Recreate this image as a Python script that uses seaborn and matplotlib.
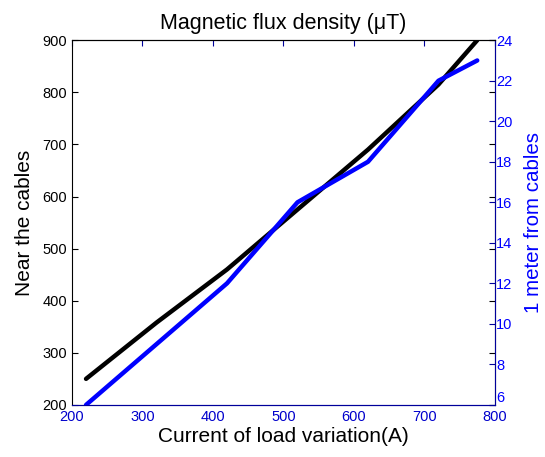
import pandas as pd
import matplotlib
matplotlib.use("Agg")
import matplotlib.pyplot as plt
import seaborn as sns

# Stroom (A)
current = [220, 320, 420, 520, 620, 720, 775]
# Flux dichtbij de kabels (uT)
near_cables = [250, 358, 460, 575, 690, 815, 900]
# Flux op 1 meter
one_meter = [6, 9, 12, 16, 18, 22, 23]

xticks = [200, 300, 400, 500, 600, 700, 800]
yticks_left = [200, 300, 400, 500, 600, 700, 800, 900]
yticks_right = [6, 8, 10, 12, 14, 16, 18, 20, 22, 24]

df = pd.DataFrame({"current": current, "near": near_cables, "meter": one_meter})

sns.set_style("white")
plt.rcParams["font.family"] = ["Liberation Sans", "DejaVu Sans"]
plt.rcParams["text.color"] = "black"
plt.rcParams["axes.labelcolor"] = "black"

fig = plt.figure(figsize=(5.45, 4.57), dpi=100)
ax1 = fig.add_axes([0.132, 0.114, 0.776, 0.798])
ax2 = ax1.twinx()

sns.lineplot(data=df, x="current", y="near", color="black", linewidth=3.2, ax=ax1)
sns.lineplot(data=df, x="current", y="meter", color="#0000ff", linewidth=3.2, ax=ax2)

ax1.set_xlim(200, 800)
ax1.set_ylim(200, 900)
ax2.set_ylim(6, 24)
ax1.set_xticks(xticks)
ax1.set_yticks(yticks_left)
ax2.set_yticks(yticks_right)

dark_blue = "#00009a"
ax1.tick_params(axis="y", direction="in", length=4, colors="black", labelsize=10.5, right=True)
ax1.tick_params(axis="x", direction="in", length=4, color=dark_blue, labelcolor="#0000cc",
                labelsize=10.5, top=True)
ax2.tick_params(axis="y", direction="in", length=4, color=dark_blue, labelcolor="#0000ff",
                labelsize=10.5, pad=1)
for lab in ax2.get_yticklabels():
    lab.set_verticalalignment("bottom" if lab.get_text() == "6" else "center_baseline")

for side in ["left", "top"]:
    ax1.spines[side].set_color("black")
ax1.spines["bottom"].set_color(dark_blue)
ax2.spines["right"].set_color(dark_blue)
ax2.spines["bottom"].set_color(dark_blue)
ax2.spines["left"].set_visible(False)
ax2.spines["top"].set_color("black")

ax1.set_xlabel("Current of load variation(A)", fontsize=15, labelpad=2)
ax1.set_ylabel("Near the cables", fontsize=15, labelpad=6)
ax2.set_ylabel("1 meter from cables", fontsize=14.8, color="#0000ff", labelpad=8)
ax1.set_title("Magnetic flux density (\u03bcT)", fontsize=15.5, pad=8)

fig.savefig("out.png", dpi=100)
